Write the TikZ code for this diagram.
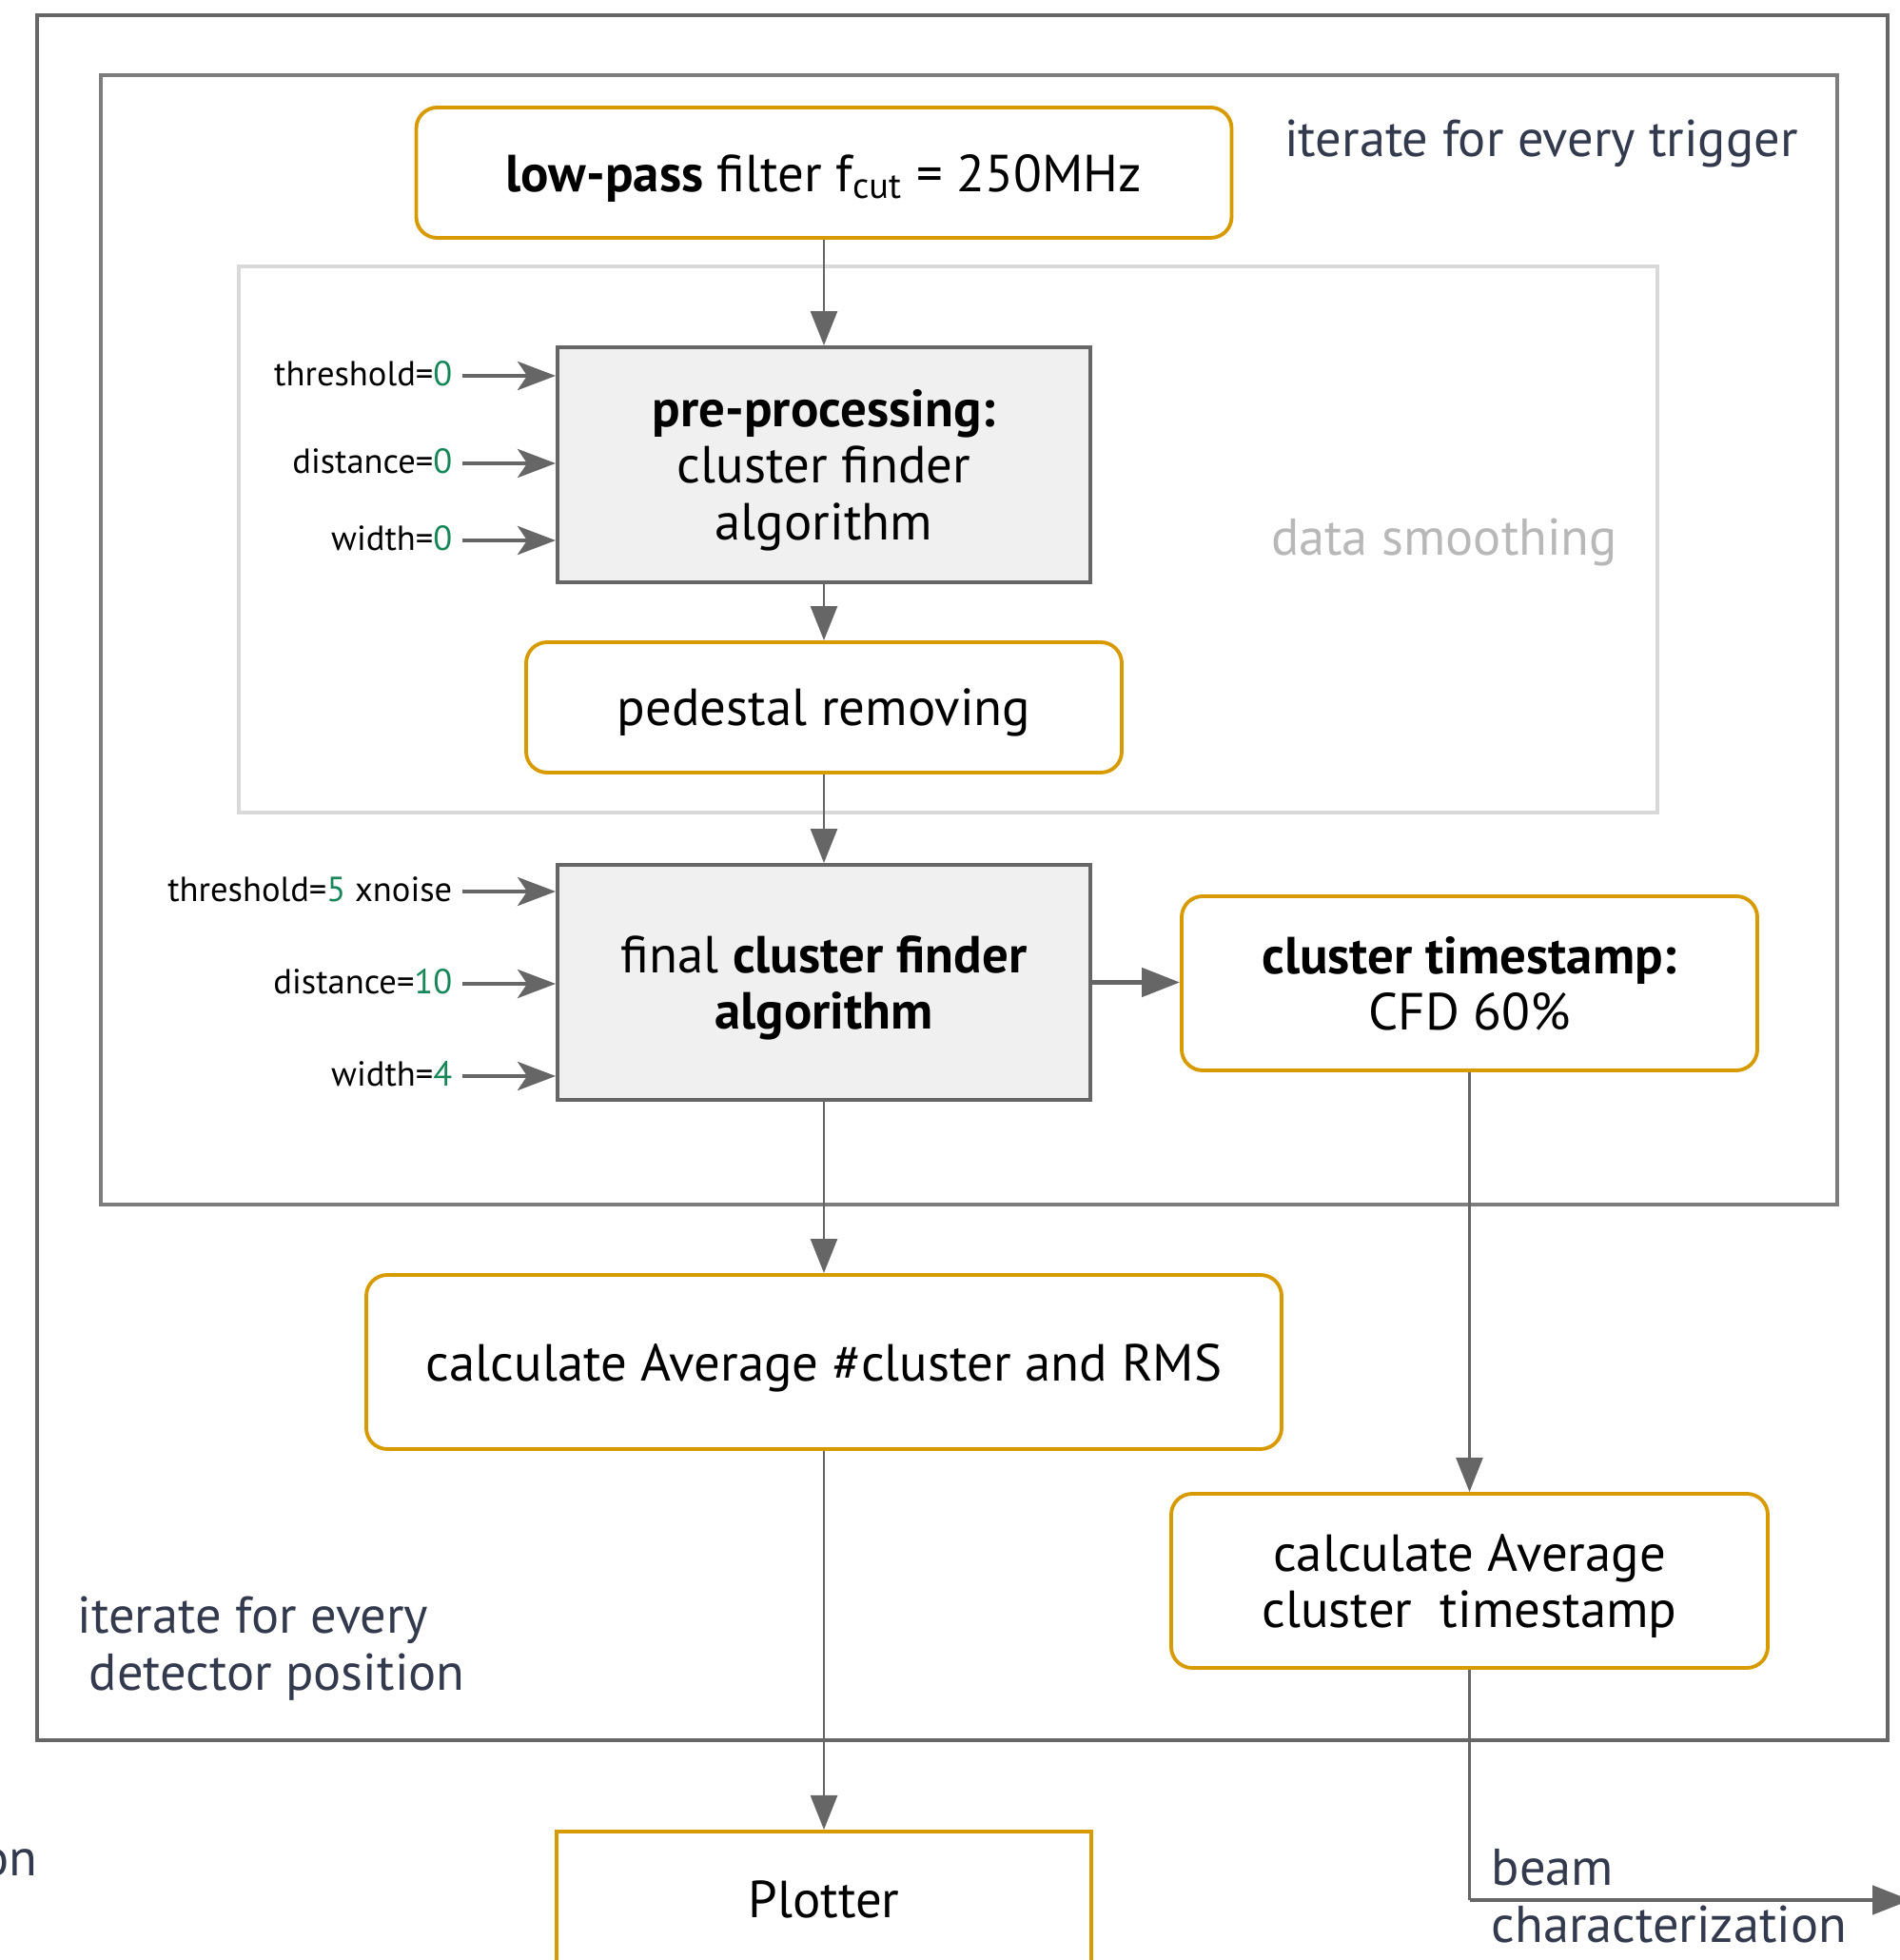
\documentclass[tikz,border=0pt]{standalone}
\usepackage{fontspec}
\setmainfont{PT Sans}
\usetikzlibrary{arrows.meta}

\definecolor{boxorange}{HTML}{D79B00}
\definecolor{linegrey}{HTML}{666666}
\definecolor{procfill}{HTML}{F0F0F0}
\definecolor{framegrey}{HTML}{D9D9D9}
\definecolor{smoothgrey}{HTML}{B8B8B8}
\definecolor{labelnavy}{HTML}{333A4D}
\definecolor{paramgreen}{HTML}{17875A}

\begin{document}
\begin{tikzpicture}[
    roundbox/.style={draw=boxorange, line width=1.1pt, rounded corners=0.22cm, fill=white,
        align=center, inner sep=0pt, text depth=0pt, font=\fontsize{15.6}{17}\selectfont},
    procbox/.style={draw=linegrey, line width=1.1pt, fill=procfill, align=center, inner sep=0pt,
        text depth=0pt, minimum width=5.6cm, minimum height=2.47cm, font=\fontsize{15.6}{17}\selectfont},
    paramlabel/.style={anchor=east, inner sep=0.1cm, text height=1.5ex, text depth=0.3ex,
        font=\fontsize{10.4}{12}\selectfont},
    note/.style={text=labelnavy, inner sep=0pt, align=left, font=\fontsize{15.5}{17}\selectfont},
    flow/.style={draw=linegrey, line width=0.75pt, -{Triangle[length=0.36cm,width=0.28cm]}},
    flowthick/.style={draw=linegrey, line width=1.4pt, -{Triangle[length=0.4cm,width=0.3cm]}},
    feed/.style={draw=linegrey, line width=1.4pt, -{Stealth[length=0.4cm,width=0.3cm,inset=0.1cm]}}
]
    \useasboundingbox (0,0) rectangle (19.97,20.60);
    \clip (0,0) rectangle (19.97,20.60);

    % frames
    \draw[draw=linegrey, line width=1pt] (0.39,2.31) rectangle (19.84,20.44);
    \draw[draw=linegrey!85, line width=0.9pt] (1.06,7.94) rectangle (19.31,19.81);
    \draw[draw=framegrey, line width=1pt] (2.51,12.06) rectangle (17.42,17.80);

    % frame labels
    \node[note] (trigger) at (16.20,19.09) {iterate for every trigger};
    \node[note, text=smoothgrey] (smoothing) at (15.18,14.90) {data smoothing};
    \node[note, anchor=west] (position) at (0.81,3.275) {iterate for every\\\hspace*{0.12cm}detector position};
    \node[note, anchor=east] (cutoff) at (0.40,1.02) {on};

    % low-pass filter
    \node[roundbox, minimum width=8.57cm, minimum height=1.37cm] (lowpass) at (8.66,18.785)
        {\textbf{low-pass} filter f\textsubscript{cut} = 250MHz};

    % pre-processing
    \node[procbox] (prep) at (8.66,15.715) {\textbf{pre-processing:}\\cluster finder\\algorithm};
    \node[paramlabel] (thrA) at (4.86,16.65) {threshold=\textcolor{paramgreen}{0}};
    \node[paramlabel] (distA) at (4.86,15.73) {distance=\textcolor{paramgreen}{0}};
    \node[paramlabel] (widA) at (4.86,14.92) {width=\textcolor{paramgreen}{0}};

    % pedestal
    \node[roundbox, minimum width=6.26cm, minimum height=1.37cm] (pedestal) at (8.66,13.165) {pedestal removing};

    % final cluster finder
    \node[procbox] (final) at (8.66,10.275) {final \textbf{cluster finder}\\\textbf{algorithm}};
    \node[paramlabel] (thrB) at (4.86,11.23) {threshold=\textcolor{paramgreen}{5} xnoise};
    \node[paramlabel] (distB) at (4.86,10.26) {distance=\textcolor{paramgreen}{10}};
    \node[paramlabel] (widB) at (4.86,9.29) {width=\textcolor{paramgreen}{4}};

    % timestamp
    \node[roundbox, minimum width=6.05cm, minimum height=1.83cm] (stamp) at (15.445,10.265)
        {\textbf{cluster timestamp:}\\CFD 60\%};

    % averages
    \node[roundbox, minimum width=9.62cm, minimum height=1.83cm] (avgrms) at (8.66,6.285)
        {calculate Average \#cluster and RMS};
    \node[roundbox, minimum width=6.27cm, minimum height=1.83cm] (avgstamp) at (15.445,3.985)
        {calculate Average\\cluster~ timestamp};

    % plotter
    \node[draw=boxorange, line width=1.1pt, fill=white, minimum width=5.62cm, minimum height=1.42cm,
        anchor=north, text depth=0pt, font=\fontsize{15.6}{17}\selectfont] (plotter) at (8.66,1.37) {Plotter};

    % beam output
    \node[note, anchor=west] (beam) at (15.67,0.675) {beam\\characterization};
    \coordinate (beamturn) at (15.445,0.63);
    \coordinate (beamend) at (20.08,0.63);

    % parameter inputs
    \foreach \p in {thrA,distA,widA}
        \draw[feed] (\p.east) -- (\p.east -| prep.west);
    \foreach \p in {thrB,distB,widB}
        \draw[feed] (\p.east) -- (\p.east -| final.west);

    % flow
    \draw[flow] (lowpass.south) -- (prep.north);
    \draw[flow] (prep.south) -- (pedestal.north);
    \draw[flow] (pedestal.south) -- (final.north);
    \draw[flowthick] (final.east) -- (final.east -| stamp.west);
    \draw[flow] (stamp.south) -- (avgstamp.north);
    \draw[flow] (final.south) -- (avgrms.north);
    \draw[flow] (avgrms.south) -- (plotter.north);
    \draw[draw=linegrey, line width=0.75pt] (avgstamp.south) -- (beamturn);
    \draw[flowthick] (beamturn) -- (beamend);
\end{tikzpicture}
\end{document}
